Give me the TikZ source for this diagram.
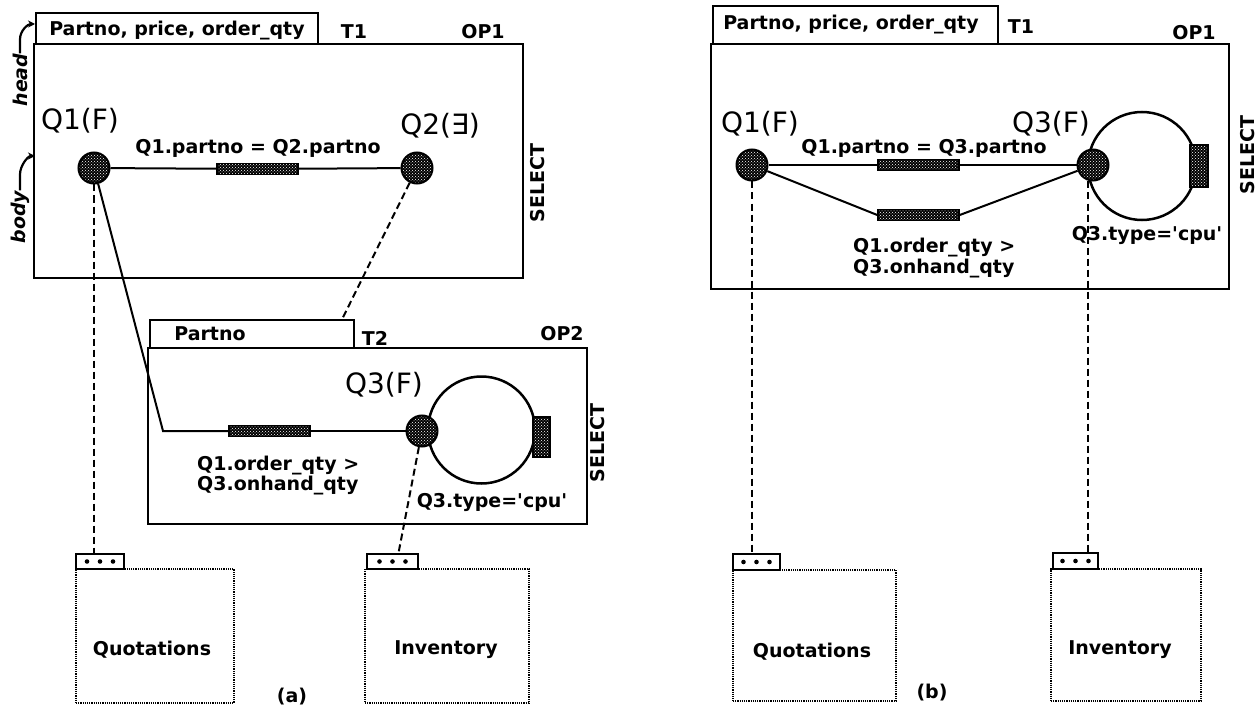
\documentclass[tikz,border=0pt]{standalone}
\usepackage{fontspec}
\setmainfont{DejaVu Sans}
\usetikzlibrary{patterns,arrows.meta}
\begin{document}
\begin{tikzpicture}[x=1pt,y=-1pt,
  lbl/.style={font=\bfseries\fontsize{19}{21}\selectfont, inner sep=0pt},
  biglbl/.style={font=\fontsize{28}{30}\selectfont, inner sep=0pt},
  opbox/.style={draw, line width=2.2pt, inner sep=0pt, anchor=north west},
  dbox/.style={draw, dash pattern=on 1.2pt off 1pt, line width=1.8pt, inner sep=0pt, anchor=north west},
  dotfill/.style={preaction={fill=black}, pattern=crosshatch dots, pattern color=white},
  qnode/.style={circle, draw, line width=2pt, minimum size=31pt, inner sep=0pt, dotfill},
  qbar/.style={draw, line width=1.5pt, minimum width=81pt, minimum height=11pt, inner sep=0pt, dotfill},
  vbar/.style={draw, line width=1.5pt, minimum width=17pt, minimum height=40pt, inner sep=0pt, dotfill},
  qline/.style={line width=2pt},
  ring/.style={circle, draw, line width=2.5pt, inner sep=0pt},
  dline/.style={line width=2pt, dash pattern=on 7pt off 4pt},
  hook/.style={line width=2.2pt, -{Stealth[length=7pt,width=7pt]}},
]
\useasboundingbox (0,0) rectangle (1259,706);

% ================= (a) =================
\node[opbox, minimum width=282, minimum height=31] (t1a) at (35,12) {};
\node[opbox, minimum width=489, minimum height=234] (op1a) at (33,43) {};
\node[lbl] (t1atxt) at (177,31) {Partno, price, order\_qty};
\node[lbl] (t1alab) at (354,32) {T1};
\node[lbl] (op1alab) at (483,32) {OP1};
\node[lbl, rotate=90] (sel1a) at (538,183) {SELECT};

\node[lbl, font=\bfseries\itshape\fontsize{19}{21}\selectfont, rotate=90] (headlbl) at (20,80) {head};
\node[lbl, font=\bfseries\itshape\fontsize{19}{21}\selectfont, rotate=90] (bodylbl) at (20,217) {body};
\coordinate (headtip) at (35,24);
\coordinate (bodytip) at (35,156);
\draw[hook] (headlbl.east) -- ++(0,-14) .. controls +(0,-9) and +(-7,0) .. (headtip);
\draw[hook] (bodylbl.east) -- ++(0,-16) .. controls +(0,-9) and +(-7,0) .. (bodytip);

\node[biglbl] (q1alab) at (80,121) {Q1(F)};
\node[biglbl] (q2alab) at (440,126) {Q2(∃)};
\node[lbl] (e1alab) at (258,148) {Q1.partno = Q2.partno};

\node[opbox, minimum width=204, minimum height=28] (t2a) at (149,319) {};
\node[opbox, minimum width=439, minimum height=176] (op2a) at (147,347) {};
\node[lbl] (t2atxt) at (210,334) {Partno};
\node[lbl] (t2alab) at (375,338) {T2};
\node[lbl] (op2alab) at (562,334) {OP2};
\node[lbl, rotate=90] (sel2a) at (598,443) {SELECT};
\node[biglbl] (q3alab) at (384,385) {Q3(F)};

\node[ring, minimum size=107] (ringa) at (481.5,430) {};
\node[vbar] (rbara) at (541.5,437) {};

\node[qnode] (q1a) at (94,168) {};
\node[qnode] (q2a) at (417,168) {};
\node[qnode] (q3a) at (422,431) {};
\node[qbar] (bar1a) at (257.5,169) {};
\node[qbar] (bar2a) at (269.5,431) {};
\coordinate (cornera) at (163,431);

\draw[qline] (q1a) -- (bar1a);
\draw[qline] (bar1a) -- (q2a);
\draw[qline] (q1a) -- (cornera) -- (bar2a);
\draw[qline] (bar2a) -- (q3a);

\node[lbl, align=left, anchor=west, font=\bfseries\fontsize{19}{20}\selectfont] (e2alab) at (197,476) {Q1.order\_qty >\\Q3.onhand\_qty};
\node[lbl] (e3alab) at (492,502) {Q3.type=\textquotesingle cpu\textquotesingle};

% tables (a)
\node[opbox, line width=2pt, minimum width=48, minimum height=15] (qtaba) at (75,553) {};
\node[dbox, minimum width=158, minimum height=134] (qboxa) at (75,568) {};
\node[lbl] (qlaba) at (152,650) {Quotations};
\node[opbox, line width=2pt, minimum width=51, minimum height=15] (itaba) at (366,553) {};
\node[dbox, minimum width=164, minimum height=134] (iboxa) at (364,568) {};
\node[lbl] (ilaba) at (446,650) {Inventory};
\node[lbl] (capa) at (292,697) {(a)};

\draw[dline] (q1a) -- (q1a |- qtaba.north);
\draw[dline] (q2a) -- ([xshift=-13pt]t2a.north east);
\draw[dline] (q3a) -- ([xshift=6pt]itaba.north);

% ================= (b) =================
\node[opbox, minimum width=285, minimum height=38] (t1b) at (712,5) {};
\node[opbox, minimum width=518, minimum height=245] (op1b) at (710,43) {};
\node[lbl] (t1btxt) at (851,25) {Partno, price, order\_qty};
\node[lbl] (t1blab) at (1021,27) {T1};
\node[lbl] (op1blab) at (1194,33) {OP1};
\node[lbl, rotate=90] (sel1b) at (1248,155) {SELECT};

\node[biglbl] (q1blab) at (760,124) {Q1(F)};
\node[biglbl] (q3blab) at (1051,124) {Q3(F)};
\node[lbl] (e1blab) at (924,148) {Q1.partno = Q3.partno};

\node[ring, minimum size=108] (ringb) at (1142,166) {};
\node[vbar, minimum width=18, minimum height=42] (rbarb) at (1199,166) {};

\node[qnode] (q1b) at (752,165) {};
\node[qnode] (q3b) at (1093,165) {};
\node[qbar] (bar1b) at (918.5,165) {};
\node[qbar] (bar2b) at (918.5,215) {};

\draw[qline] (q1b) -- (bar1b);
\draw[qline] (bar1b) -- (q3b);
\draw[qline] (q1b) -- (bar2b.west);
\draw[qline] (bar2b.east) -- (q3b);

\node[lbl, align=left, anchor=west, font=\bfseries\fontsize{19}{21}\selectfont] (e2blab) at (853,258) {Q1.order\_qty >\\Q3.onhand\_qty};
\node[lbl] (e3blab) at (1147,235) {Q3.type=\textquotesingle cpu\textquotesingle};

% tables (b)
\node[opbox, line width=2pt, minimum width=47, minimum height=16] (qtabb) at (732,553) {};
\node[dbox, minimum width=163, minimum height=131] (qboxb) at (732,569) {};
\node[lbl] (qlabb) at (812,652) {Quotations};
\node[opbox, line width=2pt, minimum width=45, minimum height=16] (itabb) at (1052,552) {};
\node[dbox, minimum width=150, minimum height=132] (iboxb) at (1050,568) {};
\node[lbl] (ilabb) at (1120,650) {Inventory};
\node[lbl] (capb) at (932,693) {(b)};

\draw[dline] (q1b) -- (q1b |- qtabb.north);
\draw[dline] ([xshift=-5pt]q3b.south) -- ([xshift=-5pt]q3b.south |- itabb.north);

% dots in table tabs
\foreach \t in {qtaba,itaba,qtabb,itabb}
  \foreach \d in {-13,0,13}
    \fill ([xshift=\d pt]\t.center) circle (2.3);
\end{tikzpicture}
\end{document}
